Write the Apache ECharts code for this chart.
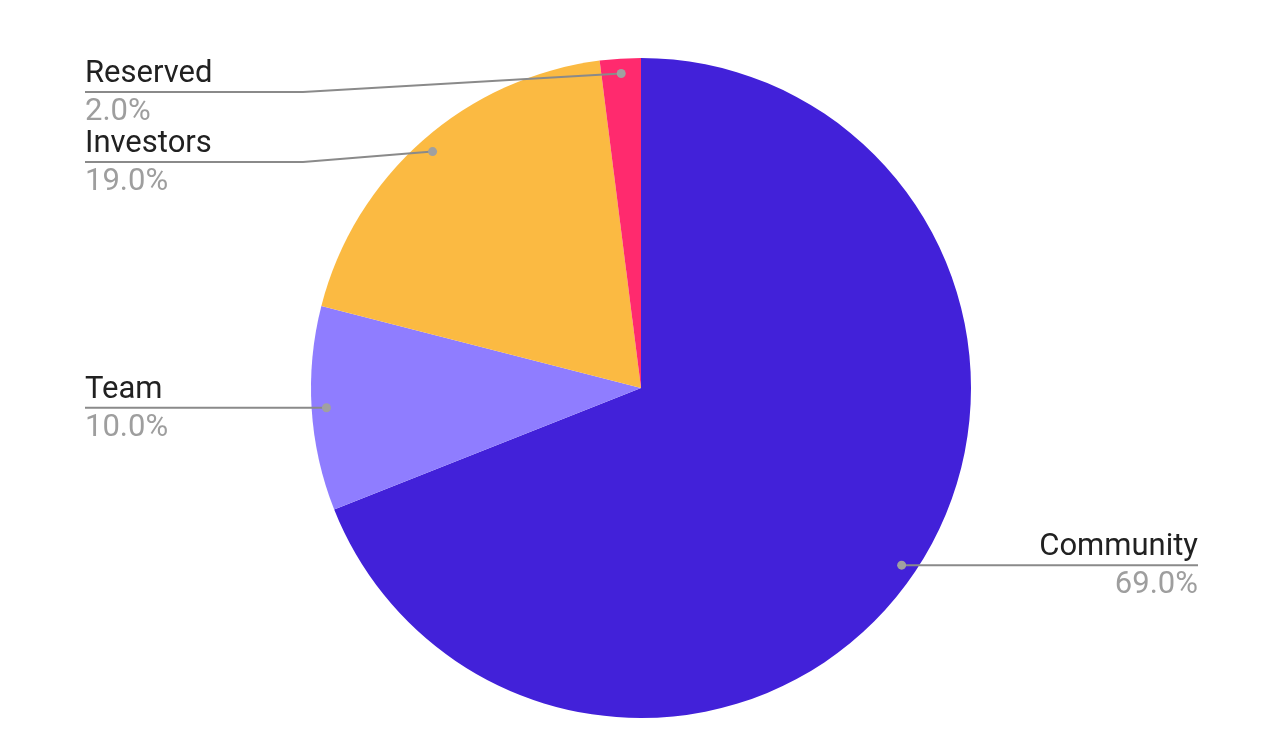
<!DOCTYPE html>
<html>
<head>
<meta charset="utf-8">
<script src="https://cdn.jsdelivr.net/npm/echarts@6/dist/echarts.min.js"></script>
<style>
html,body{margin:0;padding:0;background:#fff;}
#chart{width:1284px;height:746px;}
</style>
</head>
<body>
<div id="chart"></div>
<script>
const categories = ['Community', 'Team', 'Investors', 'Reserved'];
const values = [69, 10, 19, 2];
const colors = ['#4221D9', '#8F7DFF', '#FBBA42', '#FF2A6E'];

const CX = 641, CY = 388, R = 330;
const ANCHOR_K = 0.955;
const LEFT_X = 85, LEFT_ELBOW = 303;
const RIGHT_X = 1198, RIGHT_ELBOW = 922;
const lineYOverride = { Reserved: 92, Investors: 162 };

const data = categories.map((c, i) => ({ name: c, value: values[i], itemStyle: { color: colors[i] } }));
const plainData = categories.map((c, i) => ({ name: c, value: values[i] }));

function anchorOf(params) {
  const p0 = params.labelLinePoints[0];
  return [CX + (p0[0] - CX) * ANCHOR_K, CY + (p0[1] - CY) * ANCHOR_K];
}

const basePie = {
  type: 'pie',
  center: [CX, CY],
  radius: R,
  startAngle: 90,
  clockwise: true,
  avoidLabelOverlap: false,
  silent: true
};

const chart = echarts.init(document.getElementById('chart'), null, { renderer: 'canvas' });
chart.setOption({
  backgroundColor: '#ffffff',
  animation: false,
  series: [
    Object.assign({}, basePie, {
      z: 2,
      data: data,
      itemStyle: { borderWidth: 0 },
      label: { show: false },
      labelLine: { show: false }
    }),
    Object.assign({}, basePie, {
      z: 5,
      data: plainData,
      itemStyle: { color: 'rgba(0,0,0,0)', borderWidth: 0 },
      label: {
        show: true,
        position: 'outside',
        fontFamily: 'Roboto',
        formatter: p => '{n|' + p.name + '}\n{p|' + p.value.toFixed(1) + '%}',
        rich: {
          n: { fontFamily: 'Roboto', fontSize: 31, color: '#212121', lineHeight: 38 },
          p: { fontFamily: 'Roboto', fontSize: 31, color: '#9e9e9e', lineHeight: 38 }
        }
      },
      labelLine: { show: true, length: 15, length2: 15, lineStyle: { color: '#8a8a8a', width: 2 } },
      labelLayout: function (params) {
        const name = categories[params.dataIndex];
        const a = anchorOf(params);
        const right = a[0] > CX;
        const ly = lineYOverride[name] != null ? lineYOverride[name] : a[1];
        if (right) {
          return {
            x: RIGHT_X, y: ly + 1, align: 'right', verticalAlign: 'middle',
            labelLinePoints: [a, [RIGHT_ELBOW, ly], [RIGHT_X, ly]]
          };
        }
        return {
          x: LEFT_X, y: ly + 1, align: 'left', verticalAlign: 'middle',
          labelLinePoints: [a, [LEFT_ELBOW, ly], [LEFT_X, ly]]
        };
      }
    }),
    Object.assign({}, basePie, {
      z: 6,
      data: plainData,
      itemStyle: { color: 'rgba(0,0,0,0)', borderWidth: 0 },
      label: {
        show: true,
        position: 'outside',
        formatter: '{d| }',
        rich: { d: { width: 9, height: 9, borderRadius: 4.5, backgroundColor: '#a0a0a0', fontSize: 1, lineHeight: 9 } }
      },
      labelLine: { show: true, length: 15, length2: 15, lineStyle: { opacity: 0, width: 0 } },
      labelLayout: function (params) {
        const a = anchorOf(params);
        return { x: a[0], y: a[1], align: 'center', verticalAlign: 'middle' };
      }
    })
  ]
});
</script>
</body>
</html>
